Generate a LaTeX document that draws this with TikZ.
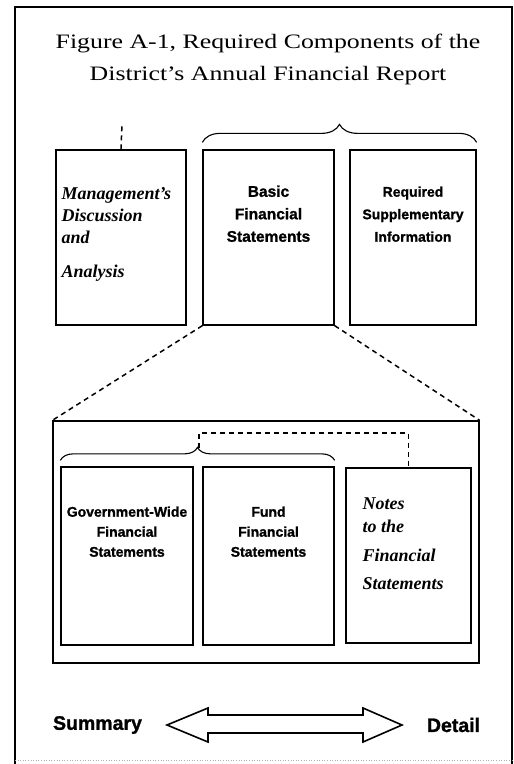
\documentclass[tikz,border=0pt]{standalone}
\usepackage{fontspec}
\setmainfont{Liberation Serif}
\setsansfont{Liberation Sans}[BoldFeatures={FakeBold=1.2}]
\newfontfamily\titlefont{Liberation Serif}[FakeStretch=1.26,Ligatures=TeX]
\usetikzlibrary{positioning,decorations.pathreplacing}

\begin{document}
\begin{tikzpicture}[x=1pt,y=-1pt,
		docbox/.style={draw,line width=1.3pt,inner sep=0pt},
		sanslbl/.style={font=\sffamily\bfseries\fontsize{14}{20}\selectfont,align=center,inner sep=0pt},
		scriptlbl/.style={font=\bfseries\itshape\fontsize{18}{22}\selectfont,align=left,inner sep=0pt,anchor=north west},
		dashlink/.style={line width=1.5pt,dash pattern=on 5pt off 4pt},
		brace/.style={decorate,decoration={brace,amplitude=#1},line width=1.1pt}]
	\useasboundingbox (0,0) rectangle (514,764);
	\draw[line width=1.6pt] (15,764) -- (15,7) -- (512,7) -- (512,764);
	\draw[gray!60,line width=0.6pt,dotted] (15,760) -- (512,760);
	\node[font=\titlefont\fontsize{20.5}{32}\selectfont,align=center] (title) at (268,59)
		{Figure A-1, Required Components of the\\District’s Annual Financial Report};

	\node[docbox,minimum width=130pt,minimum height=175pt] (mda) at (121,237.5) {};
	\node[docbox,minimum width=131pt,minimum height=175pt] (basic) at (268.5,237.5) {};
	\node[docbox,minimum width=126pt,minimum height=175pt] (rsi) at (413,237.5) {};
	\node[scriptlbl] (mdatxt) at ([xshift=6pt,yshift=-38pt]mda.north west)
		{Management’s\\Discussion\\and\\[12pt]Analysis};
	\node[sanslbl,font=\sffamily\bfseries\fontsize{15.5}{22.5}\selectfont,below=36pt of basic.north] (basictxt)
		{Basic\\Financial\\Statements};
	\node[sanslbl,font=\sffamily\bfseries\fontsize{14}{22.5}\selectfont,below=37pt of rsi.north] (rsitxt)
		{Required\\Supplementary\\Information};
	\coordinate (mdatop) at (122,124);
	\draw[dashlink] (mda.north) -- (mdatop);
	\draw[brace=18pt] ([yshift=7pt]basic.north west) -- ([yshift=7pt]rsi.north east);

	\node[docbox,minimum width=426pt,minimum height=242pt] (detail) at (266,542) {};
	\draw[dashlink] (basic.south west) -- (detail.north west);
	\draw[dashlink] (basic.south east) -- (detail.north east);

	\node[docbox,minimum width=132pt,minimum height=178pt] (gov) at (127,556) {};
	\node[docbox,minimum width=131pt,minimum height=178pt] (fund) at (268.5,556) {};
	\node[docbox,minimum width=125pt,minimum height=175pt] (notes) at (408.5,555.5) {};
	\node[sanslbl,below=40pt of gov.north] (govtxt) {Government-Wide\\Financial\\Statements};
	\node[sanslbl,below=40pt of fund.north] (fundtxt) {Fund\\Financial\\Statements};
	\node[scriptlbl,font=\bfseries\itshape\fontsize{18}{23}\selectfont] (notestxt)
		at ([xshift=17pt,yshift=-30pt]notes.north west)
		{Notes\\to the\\[6pt]Financial\\[5pt]Statements};
	\draw[brace=13pt] ([yshift=6pt]gov.north west) -- ([yshift=6pt]fund.north east);
	\coordinate (bracetip) at (199,448);
	\draw[dashlink] (bracetip) -- (199,433) -| (notes.north);

	\node[sanslbl,font=\sffamily\bfseries\fontsize{19.5}{22}\selectfont] (summ) at (97.5,725) {Summary};
	\node[sanslbl,font=\sffamily\bfseries\fontsize{19.5}{22}\selectfont] (detl) at (453.5,725) {Detail};
	\draw[line width=1.6pt,line join=miter] (167,725) -- (208,708) -- (208,715) -- (363,715) -- (363,708)
		-- (402,725) -- (363,742) -- (363,733) -- (208,733) -- (208,742) -- cycle;
\end{tikzpicture}
\end{document}
